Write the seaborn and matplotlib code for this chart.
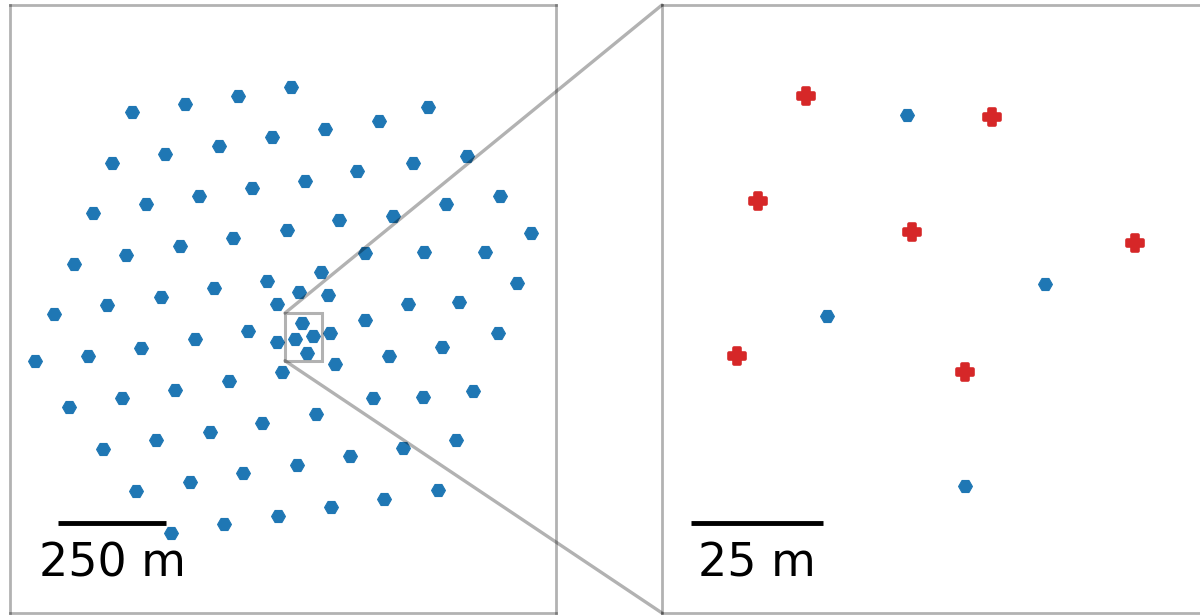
import numpy as np
import pandas as pd
import matplotlib
matplotlib.use("Agg")
import matplotlib.pyplot as plt
import seaborn as sns
from matplotlib.patches import Rectangle, ConnectionPatch

# Antenna positions (metres, east / north) of the full array
east = [-396, -273, -150, -27, 289, 175, 51, -71, -194, -319, -441, 379, 254, 124, 4,
        -117, -240, -363, -485, 455, 331, 208, 82, -38, -161, -284, -408, -530, 526,
        420, 280, 144, 41, -83, -207, -329, -452, 493, 361, 243, 57, -9, -61, -576,
        144, 449, -3, -61, -18, 23, 63, 8, 74, 198, 321, -127, -250, -374, -497, -620,
        -48, -171, -296, -419, -541, 161, 276, 393, 29, -94, -216, -340, -462, 231,
        354, 109, -15, -138, -261, -385, 311, 187, 64, -59, -183, -306]
north = [519, 538, 557, 577, 531, 500, 480, 461, 442, 422, 402, 419, 403, 383, 360,
         344, 325, 306, 286, 325, 307, 280, 270, 247, 228, 209, 189, 169, 239,
         196, 196, 194, 150, 130, 112, 92, 73, 124, 81, 76, 96, 104, 76, 53,
         38, 10, 33, -11, -5, 1, 9, -37, -62, -43, -24, 14, -5, -25, -45, -56,
         -82, -102, -122, -142, -161, -141, -140, -125, -179, -199, -219, -238, -259, -257,
         -238, -276, -295, -315, -335, -356, -353, -374, -393, -413, -432, -452]

# Extra stations visible only in the zoomed view (metres)
zoom_east = [-22, 13, -31, -2, 40, -35, 8]
zoom_north = [36.5, 32.6, 16.8, 10.8, 8.8, -12.5, -15.6]

scale_labels = ["250 m", "25 m"]
scale_lengths = [250, 25]

main_df = pd.DataFrame({"east": east, "north": north})
zoom_df = pd.DataFrame({"east": zoom_east, "north": zoom_north})

sns.set_style("white")
plt.rcParams["font.family"] = ["DejaVu Sans"]

W, H = 1200, 615
fig = plt.figure(figsize=(12, 6.15), dpi=100)
ax1 = fig.add_axes([10 / W, 2 / H, 546 / W, 608 / H])
ax2 = fig.add_axes([662 / W, 2 / H, 546 / W, 608 / H])

blue = "#1f77b4"
red = "#d62728"
line_rgba = (0, 0, 0, 0.3)

sns.scatterplot(data=main_df, x="east", y="north", ax=ax1, marker="H", s=100,
                color=blue, edgecolor=blue, linewidth=0.8, legend=False)
sns.scatterplot(data=main_df, x="east", y="north", ax=ax2, marker="H", s=100,
                color=blue, edgecolor=blue, linewidth=0.8, legend=False)
sns.scatterplot(data=zoom_df, x="east", y="north", ax=ax2, marker="P", s=125,
                color=red, edgecolor=red, linewidth=2.6, legend=False)

ax1.set_xlim(-677, 584)
ax1.set_ylim(-638, 767)
ax2.set_xlim(-49.2, 53.8)
ax2.set_ylim(-61.0, 53.7)

for ax in (ax1, ax2):
    ax.set_xticks([])
    ax.set_yticks([])
    ax.set_xlabel("")
    ax.set_ylabel("")
    for sp in ax.spines.values():
        sp.set_edgecolor(line_rgba)
        sp.set_linewidth(2)

# zoom box
box = (-42, -55, 86, 110)
ax1.add_patch(Rectangle((box[0], box[1]), box[2], box[3], fill=False,
                        edgecolor=line_rgba, linewidth=2.2, zorder=5))

for ya, yb in ((box[1] + box[3], 1), (box[1], 0)):
    con = ConnectionPatch(xyA=(box[0], ya), coordsA=ax1.transData,
                          xyB=(0, yb), coordsB=ax2.transAxes,
                          color="k", alpha=0.3, linewidth=2.4)
    fig.add_artist(con)

# scale bars
ax1.plot([-566, -566 + scale_lengths[0]], [-430, -430], color="k", lw=3.5,
         solid_capstyle="butt")
ax1.text(-566 + scale_lengths[0] / 2, -554, scale_labels[0], ha="center",
         va="baseline", fontsize=33, color="k")
ax2.plot([-43.8, -43.8 + scale_lengths[1]], [-44.1, -44.1], color="k", lw=3.5,
         solid_capstyle="butt")
ax2.text(-43.8 + scale_lengths[1] / 2, -54.2, scale_labels[1], ha="center",
         va="baseline", fontsize=33, color="k")

fig.savefig("out.png", dpi=100)
